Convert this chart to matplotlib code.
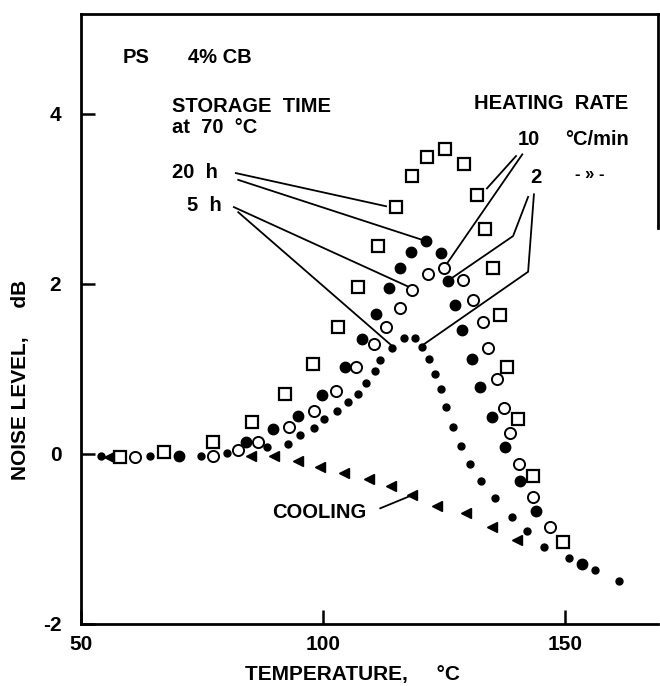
import matplotlib
matplotlib.use('Agg')
import matplotlib.pyplot as plt

plt.rcParams['font.family'] = ['Liberation Sans', 'DejaVu Sans']
plt.rcParams['font.weight'] = 'bold'
plt.rcParams['axes.labelweight'] = 'bold'

# 20 h at 70 C, heated at 10 C/min (open squares)
sq_t = [58.1, 67.2, 77.3, 85.4, 92.2, 97.9, 103.1, 107.2, 111.4, 115.1, 118.4,
        121.5, 125.2, 129.1, 131.8, 133.5, 135.1, 136.5, 138.0, 140.3, 143.4, 149.6]
sq_db = [-0.04, 0.02, 0.14, 0.38, 0.70, 1.06, 1.49, 1.96, 2.44, 2.90, 3.26,
         3.49, 3.58, 3.41, 3.04, 2.64, 2.19, 1.63, 1.02, 0.41, -0.26, -1.04]

# 20 h at 70 C, heated at 2 C/min (big filled circles)
fc_t = [70.3, 84.1, 89.7, 94.8, 99.8, 104.5, 108.0, 110.9, 113.6, 115.9, 118.2, 121.3,
        124.4, 125.8, 127.3, 128.7, 130.8, 132.4, 134.9, 137.6, 140.7, 144.0, 153.5]
fc_db = [-0.03, 0.14, 0.29, 0.45, 0.69, 1.02, 1.35, 1.64, 1.95, 2.19, 2.37, 2.50,
         2.36, 2.03, 1.75, 1.45, 1.11, 0.78, 0.43, 0.08, -0.32, -0.67, -1.29]

# 5 h at 70 C, heated at 10 C/min (open circles)
oc_t = [61.2, 77.3, 82.5, 86.6, 93.0, 98.1, 102.7, 106.8, 110.5, 113.0, 115.9, 118.4,
        121.7, 125.0, 128.9, 131.0, 133.0, 134.1, 135.9, 137.4, 138.6, 140.5, 143.4, 146.9]
oc_db = [-0.04, -0.02, 0.04, 0.14, 0.32, 0.50, 0.74, 1.02, 1.29, 1.49, 1.72, 1.92,
         2.11, 2.18, 2.04, 1.81, 1.55, 1.24, 0.88, 0.54, 0.25, -0.12, -0.51, -0.86]

# 5 h at 70 C, heated at 2 C/min (small dots)
dot_t = [54.2, 64.3, 74.8, 80.2, 88.4, 92.8, 95.3, 98.1, 100.2, 102.9, 105.2, 107.2,
         108.9, 110.7, 111.8, 114.2, 116.7, 119.0, 120.4, 121.9, 123.1, 124.4, 125.4,
         126.8, 128.5, 130.4, 132.6, 135.5, 139.0, 142.1, 145.6, 150.8, 156.0, 161.1]
dot_db = [-0.02, -0.03, -0.02, 0.01, 0.08, 0.12, 0.22, 0.30, 0.41, 0.50, 0.61, 0.70,
          0.83, 0.97, 1.10, 1.24, 1.36, 1.36, 1.26, 1.11, 0.94, 0.76, 0.55,
          0.32, 0.09, -0.12, -0.32, -0.52, -0.74, -0.91, -1.10, -1.23, -1.36, -1.49]

# cooling (triangles)
cool_t = [55.8, 85.1, 89.9, 94.8, 99.4, 104.3, 109.5, 114.0, 118.4, 123.5, 129.5, 134.9, 140.1]
cool_db = [-0.04, -0.02, -0.02, -0.09, -0.15, -0.23, -0.29, -0.38, -0.48, -0.61, -0.70, -0.86, -1.01]

x_ticks = [50, 100, 150]
y_ticks = [-2, 0, 2, 4]

# leader lines from the labels to the curves
leaders = [
  ([82.0, 113.0], [3.30, 2.91]),
  ([82.5, 120.2], [3.22, 2.52]),
  ([81.6, 117.4], [2.90, 1.97]),
  ([82.5, 114.0], [2.84, 1.28]),
  ([139.8, 133.8], [3.50, 3.12]),
  ([141.1, 125.6], [3.52, 2.24]),
  ([142.3, 139.2, 126.4], [3.02, 2.56, 2.06]),
  ([143.5, 142.3, 120.6], [3.05, 2.14, 1.28]),
  ([111.8, 118.2], [-0.64, -0.49]),
]

fig = plt.figure(figsize=(6.6, 6.86), dpi=100)
ax = fig.add_axes([0.1223, 0.0904, 0.8747, 0.8892])

ax.plot(sq_t, sq_db, 's', mfc='white', mec='black', ms=8, mew=1.6)
ax.plot(fc_t, fc_db, 'o', color='black', ms=7.5)
ax.plot(oc_t, oc_db, 'o', mfc='white', mec='black', ms=8, mew=1.4)
ax.plot(dot_t, dot_db, 'o', color='black', ms=5)
ax.plot(cool_t, cool_db, '<', color='black', ms=7)

for lx, ly in leaders:
  ax.plot(lx, ly, '-', color='black', lw=1.3)

ax.set_xlim(50, 169.1)
ax.set_ylim(-2, 5.17)
ax.set_xticks(x_ticks)
ax.set_yticks(y_ticks)
ax.set_xticklabels([str(v) for v in x_ticks], fontsize=15)
ax.set_yticklabels([str(v) for v in y_ticks], fontsize=15)
ax.tick_params(direction='in', length=10, width=1.8, pad=8)
ax.tick_params(axis='y', pad=14)

for s in ax.spines.values():
  s.set_linewidth(2)
ax.spines['right'].set_bounds(2.66, 5.17)

ax.set_xlabel('TEMPERATURE,     \u00b0C', fontsize=15)
ax.xaxis.set_label_coords(0.47, -0.068)
ax.set_ylabel('NOISE LEVEL,     dB', fontsize=15)
ax.yaxis.set_label_coords(-0.087, 0.40)

fs = 14.5
txt = dict(fontsize=fs, ha='left', va='center')
ax.text(58.7, 4.66, 'PS', **txt)
ax.text(72.1, 4.66, '4% CB', **txt)
ax.text(68.8, 4.08, 'STORAGE  TIME', **txt)
ax.text(68.8, 3.83, 'at  70  \u00b0C', **txt)
ax.text(68.8, 3.31, '20  h', **txt)
ax.text(71.9, 2.92, '5  h', **txt)
ax.text(163.0, 4.12, 'HEATING  RATE', fontsize=fs, ha='right', va='center')
ax.text(140.2, 3.69, '10', **txt)
ax.text(163.0, 3.69, '\u00b0C/min', fontsize=fs, ha='right', va='center')
ax.text(142.7, 3.25, '2', **txt)
ax.text(152.0, 3.28, '- \u00bb -', fontsize=12, ha='left', va='center')
ax.text(89.5, -0.69, 'COOLING', **txt)

fig.savefig('out.png', dpi=100)
